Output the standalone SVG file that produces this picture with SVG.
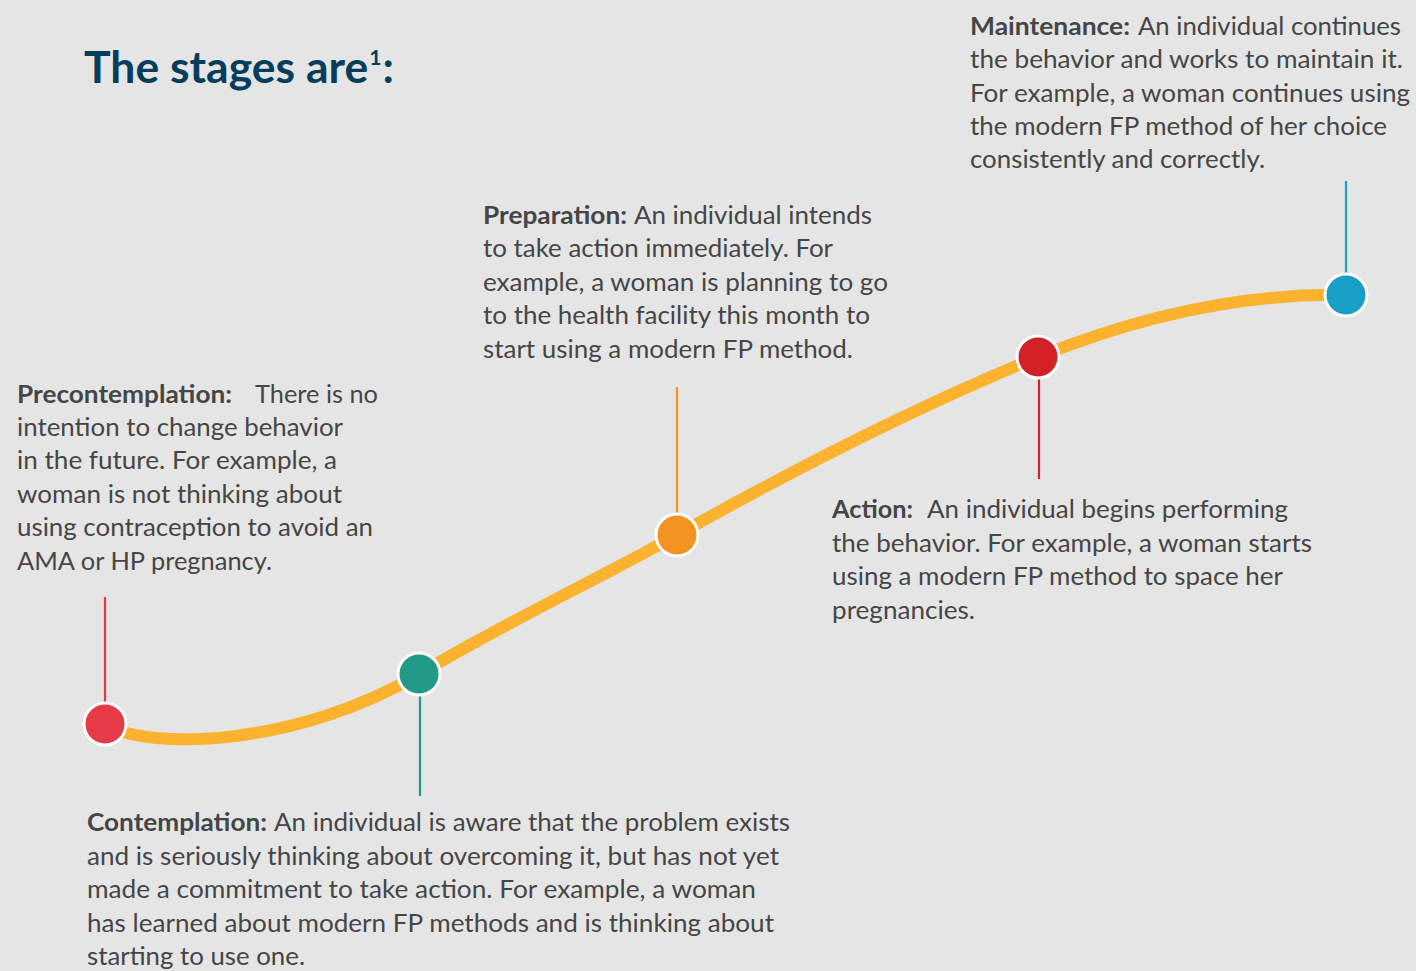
<svg xmlns="http://www.w3.org/2000/svg" width="1416" height="971" viewBox="0 0 1416 971">
<style>
.t{font-family:Lato,"Open Sans","Liberation Sans",sans-serif;font-size:24.5px;fill:#454545}
.b{font-weight:700}
.title{font-family:Lato,"Open Sans","Liberation Sans",sans-serif;font-weight:700;font-size:44.5px;fill:#063d5d}
.dot{stroke:#fff;stroke-width:3}
.stem{stroke-width:2.2;fill:none}
</style>
<rect width="1416" height="971" fill="#e5e5e5"/>
<g id="title">
<text class="title" x="84" y="83">The stages are<tspan dx="1" dy="-18" font-size="21">1</tspan><tspan dx="1" dy="18">:</tspan></text>
</g>
<g id="connectors">
<path d="M105,724 C150,752 300,745 419,674 C499,626 600,578 677,535 C800,466 920,405 1038,357 C1150,312 1250,293 1346,295" fill="none" stroke="#fbb22e" stroke-width="12" stroke-linecap="round"/>
<line class="stem" x1="105" y1="597" x2="105" y2="704" stroke="#e33a45"/>
<line class="stem" x1="420" y1="695" x2="420" y2="796" stroke="#219b87"/>
<line class="stem" x1="677" y1="387" x2="677" y2="515" stroke="#f39322"/>
<line class="stem" x1="1039" y1="378" x2="1039" y2="479" stroke="#d42128"/>
<line class="stem" x1="1346" y1="181" x2="1346" y2="275" stroke="#189fc6"/>
</g>
<g id="dot-precontemplation"><circle class="dot" cx="105" cy="724" r="21" fill="#e63a46"/></g>
<g id="dot-contemplation"><circle class="dot" cx="419" cy="674" r="21" fill="#219b87"/></g>
<g id="dot-preparation"><circle class="dot" cx="677" cy="535" r="21" fill="#f39322"/></g>
<g id="dot-action"><circle class="dot" cx="1038" cy="357" r="21" fill="#d42128"/></g>
<g id="dot-maintenance"><circle class="dot" cx="1346" cy="295" r="21" fill="#189fc6"/></g>
<g id="precontemplation">
<text class="t b" x="17" y="403" textLength="215" lengthAdjust="spacingAndGlyphs">Precontemplation:</text>
<text class="t" x="255" y="403" textLength="123" lengthAdjust="spacingAndGlyphs">There is no</text>
<text class="t" x="17" y="436" textLength="326" lengthAdjust="spacingAndGlyphs">intention to change behavior</text>
<text class="t" x="17" y="469" textLength="320" lengthAdjust="spacingAndGlyphs">in the future. For example, a</text>
<text class="t" x="17" y="503" textLength="325" lengthAdjust="spacingAndGlyphs">woman is not thinking about</text>
<text class="t" x="17" y="536" textLength="356" lengthAdjust="spacingAndGlyphs">using contraception to avoid an</text>
<text class="t" x="17" y="570" textLength="255" lengthAdjust="spacingAndGlyphs">AMA or HP pregnancy.</text>
</g>
<g id="contemplation">
<text class="t b" x="87" y="831" textLength="180" lengthAdjust="spacingAndGlyphs">Contemplation:</text>
<text class="t" x="274" y="831" textLength="516" lengthAdjust="spacingAndGlyphs">An individual is aware that the problem exists</text>
<text class="t" x="87" y="865" textLength="692" lengthAdjust="spacingAndGlyphs">and is seriously thinking about overcoming it, but has not yet</text>
<text class="t" x="87" y="898" textLength="669" lengthAdjust="spacingAndGlyphs">made a commitment to take action. For example, a woman</text>
<text class="t" x="87" y="932" textLength="687" lengthAdjust="spacingAndGlyphs">has learned about modern FP methods and is thinking about</text>
<text class="t" x="87" y="965" textLength="218" lengthAdjust="spacingAndGlyphs">starting to use one.</text>
</g>
<g id="preparation">
<text class="t b" x="483" y="224" textLength="144" lengthAdjust="spacingAndGlyphs">Preparation:</text>
<text class="t" x="634" y="224" textLength="238" lengthAdjust="spacingAndGlyphs">An individual intends</text>
<text class="t" x="483" y="257" textLength="350" lengthAdjust="spacingAndGlyphs">to take action immediately. For</text>
<text class="t" x="483" y="291" textLength="405" lengthAdjust="spacingAndGlyphs">example, a woman is planning to go</text>
<text class="t" x="483" y="324" textLength="387" lengthAdjust="spacingAndGlyphs">to the health facility this month to</text>
<text class="t" x="483" y="358" textLength="370" lengthAdjust="spacingAndGlyphs">start using a modern FP method.</text>
</g>
<g id="action">
<text class="t b" x="832" y="518" textLength="81" lengthAdjust="spacingAndGlyphs">Action:</text>
<text class="t" x="927" y="518" textLength="361" lengthAdjust="spacingAndGlyphs">An individual begins performing</text>
<text class="t" x="832" y="552" textLength="480" lengthAdjust="spacingAndGlyphs">the behavior. For example, a woman starts</text>
<text class="t" x="832" y="585" textLength="451" lengthAdjust="spacingAndGlyphs">using a modern FP method to space her</text>
<text class="t" x="832" y="619" textLength="143" lengthAdjust="spacingAndGlyphs">pregnancies.</text>
</g>
<g id="maintenance">
<text class="t b" x="970" y="35" textLength="160" lengthAdjust="spacingAndGlyphs">Maintenance:</text>
<text class="t" x="1138" y="35" textLength="263" lengthAdjust="spacingAndGlyphs">An individual continues</text>
<text class="t" x="970" y="68" textLength="433" lengthAdjust="spacingAndGlyphs">the behavior and works to maintain it.</text>
<text class="t" x="970" y="102" textLength="440" lengthAdjust="spacingAndGlyphs">For example, a woman continues using</text>
<text class="t" x="970" y="135" textLength="417" lengthAdjust="spacingAndGlyphs">the modern FP method of her choice</text>
<text class="t" x="970" y="168" textLength="295" lengthAdjust="spacingAndGlyphs">consistently and correctly.</text>
</g>
</svg>
